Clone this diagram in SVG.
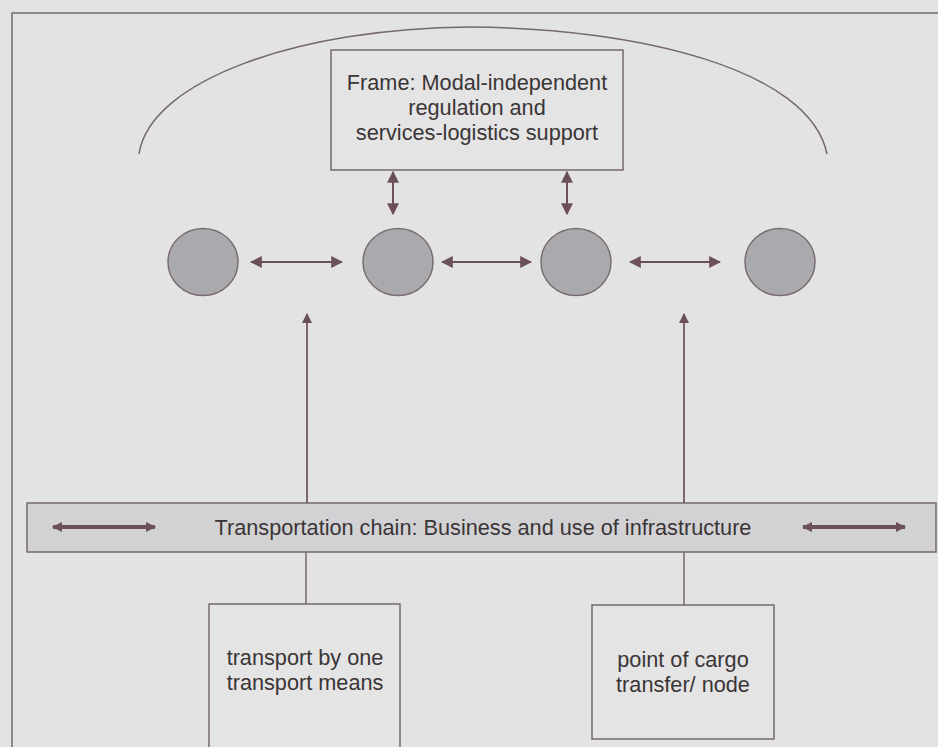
<svg xmlns="http://www.w3.org/2000/svg" width="938" height="747" viewBox="0 0 938 747">
<style>
.ln{fill:none;stroke:#76696b;stroke-width:1.5}
.box{fill:#e4e4e4;stroke:#76696b;stroke-width:1.5}
.ar{fill:none;stroke:#6b5057;stroke-width:2}
.th{fill:none;stroke:#6b5057;stroke-width:4}
.node{fill:#aaaaae;stroke:#7a6d70;stroke-width:1.5}
text{font-family:"Liberation Sans",Arial,sans-serif;font-size:21.7px;fill:#3a3536;text-anchor:middle}
</style>
<defs>
<marker id="ah" viewBox="0 0 10 10" refX="9" refY="5" markerWidth="6" markerHeight="6" orient="auto-start-reverse" markerUnits="strokeWidth">
<path d="M0,0 L10,5 L0,10 z" fill="#6b5057"/>
</marker>
<marker id="ahs" viewBox="0 0 10 10" refX="9" refY="5" markerWidth="2.6" markerHeight="3" orient="auto-start-reverse" markerUnits="strokeWidth">
<path d="M0,0 L10,5 L0,10 z" fill="#6b5057"/>
</marker>
</defs>
<rect width="938" height="747" fill="#e3e3e3"/>
<g id="outer-frame">
<path class="ln" d="M12,747 L12,13 L938,13"/>
<path class="ln" d="M139,154 C150,80 300,28 470,27 C640,28 810,70 827,154"/>
</g>
<g id="frame">
<rect class="box" x="331" y="50" width="292" height="120"/>
<text x="477" y="90">Frame: Modal-independent</text>
<text x="477" y="115">regulation and</text>
<text x="477" y="140">services-logistics support</text>
</g>
<g id="node1"><ellipse class="node" cx="203" cy="262" rx="35" ry="33.5"/></g>
<g id="node2"><ellipse class="node" cx="398" cy="262" rx="35" ry="33.5"/></g>
<g id="node3"><ellipse class="node" cx="576" cy="262" rx="35" ry="33.5"/></g>
<g id="node4"><ellipse class="node" cx="780" cy="262" rx="35" ry="33.5"/></g>
<g id="chain">
<rect x="27" y="503" width="909" height="49" fill="#d2d2d4" stroke="#76696b" stroke-width="1.5"/>
<text x="483" y="535">Transportation chain: Business and use of infrastructure</text>
</g>
<g id="transport">
<rect class="box" x="209" y="604" width="191" height="150"/>
<text x="305" y="665">transport by one</text>
<text x="305" y="690">transport means</text>
</g>
<g id="transfer">
<rect class="box" x="592" y="605" width="182" height="134"/>
<text x="683" y="667">point of cargo</text>
<text x="683" y="692">transfer/ node</text>
</g>
<g id="connectors">
<line class="ar" x1="393" y1="172" x2="393" y2="214" marker-start="url(#ah)" marker-end="url(#ah)"/>
<line class="ar" x1="567" y1="172" x2="567" y2="214" marker-start="url(#ah)" marker-end="url(#ah)"/>
<line class="ar" x1="251" y1="262" x2="342" y2="262" marker-start="url(#ah)" marker-end="url(#ah)"/>
<line class="ar" x1="442" y1="262" x2="531" y2="262" marker-start="url(#ah)" marker-end="url(#ah)"/>
<line class="ar" x1="630" y1="262" x2="720" y2="262" marker-start="url(#ah)" marker-end="url(#ah)"/>
<line class="ar" x1="307" y1="503" x2="307" y2="314" marker-end="url(#ah)" style="stroke-width:1.7"/>
<line class="ar" x1="684" y1="503" x2="684" y2="314" marker-end="url(#ah)" style="stroke-width:1.7"/>
<line class="ln" x1="306" y1="552" x2="306" y2="604"/>
<line class="ln" x1="684" y1="552" x2="684" y2="605"/>
<line class="th" x1="53" y1="527" x2="155" y2="527" marker-start="url(#ahs)" marker-end="url(#ahs)"/>
<line class="th" x1="803" y1="527" x2="905" y2="527" marker-start="url(#ahs)" marker-end="url(#ahs)"/>
</g>
</svg>
